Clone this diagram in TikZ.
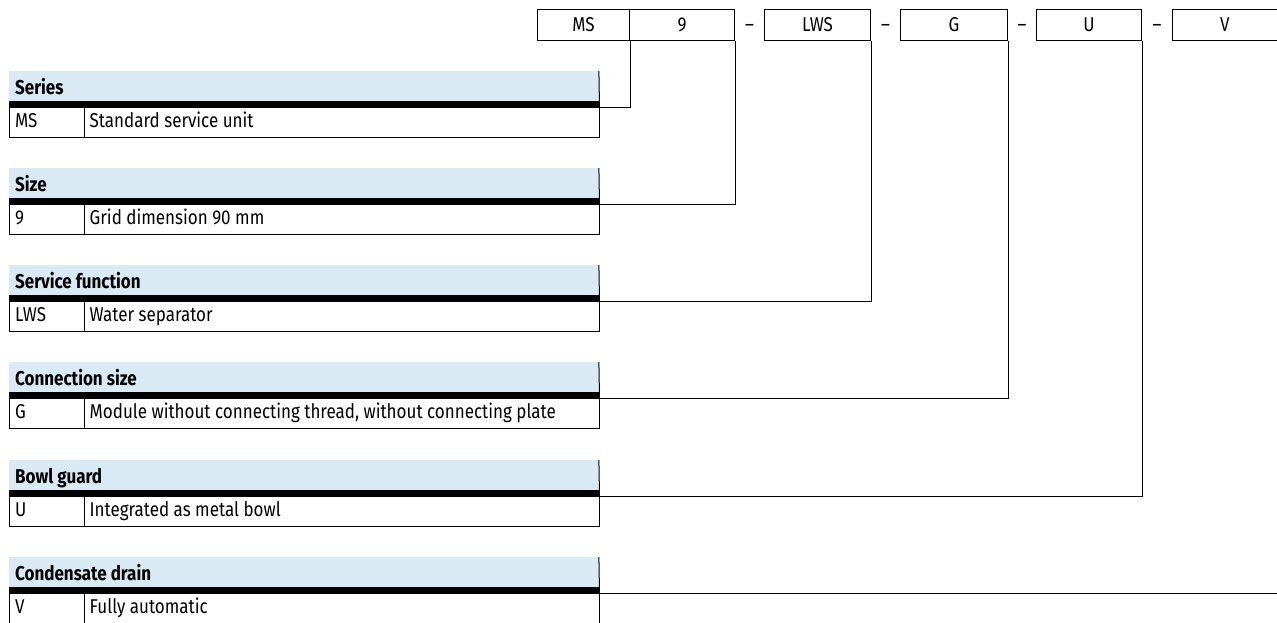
\documentclass[tikz,border=0pt]{standalone}
\usepackage{fontspec}
\setmainfont{Fira Sans}[FakeStretch=0.85]
\definecolor{hdrblue}{RGB}{217,234,244}
\tikzset{
  topbox/.style={draw, line width=1pt, minimum height=31pt, inner sep=0pt},
  hdrband/.style={fill=hdrblue, minimum width=590pt, minimum height=30pt, inner sep=0pt, anchor=north west},
  rowbox/.style={draw, line width=1pt, minimum width=590pt, minimum height=30pt, inner sep=0pt, anchor=north west},
  txt/.style={inner sep=0pt, anchor=base west, font=\fontsize{20}{22}\selectfont},
  btxt/.style={inner sep=0pt, anchor=base west, font=\fontsize{20}{22}\selectfont\bfseries},
  ctxt/.style={inner sep=0pt, anchor=base, font=\fontsize{20}{22}\selectfont},
  conn/.style={line width=1pt}
}
\begin{document}
\begin{tikzpicture}[x=1pt,y=-1pt]
\useasboundingbox (0,0) rectangle (1277,622);
\clip (0,0) rectangle (1277,622);
% top code boxes
\node[topbox, minimum width=92pt] (bMS) at (583.5,25) {};
\node[topbox, minimum width=105pt] (b9) at (682,25) {};
\node[topbox, minimum width=106pt] (bLWS) at (817.5,25) {};
\node[topbox, minimum width=107pt] (bG) at (954,25) {};
\node[topbox, minimum width=105pt] (bU) at (1089,25) {};
\node[topbox, minimum width=107.5pt] (bV) at (1226.25,25) {};
\node[ctxt] (tMS) at (583.5,31) {MS};
\node[ctxt] (t9) at (682,31) {9};
\node[ctxt] (tLWS) at (817.5,31) {LWS};
\node[ctxt] (tG) at (954,31) {G};
\node[ctxt] (tU) at (1089,31) {U};
\node[ctxt] (tV) at (1224.75,31) {V};
\node[ctxt] (d1) at (749.5,31) {–};
\node[ctxt] (d2) at (885.5,31) {–};
\node[ctxt] (d3) at (1022,31) {–};
\node[ctxt] (d4) at (1157,31) {–};
% tables
\foreach \i/\t/\hd/\code/\desc in {
  1/71/Series/MS/Standard service unit,
  2/168/Size/9/Grid dimension 90 mm,
  3/265/Service function/LWS/Water separator,
  4/362/Connection size/G/{Module without connecting thread, without connecting plate},
  5/460/Bowl guard/U/Integrated as metal bowl,
  6/557/Condensate drain/V/Fully automatic}{
  \node[hdrband] (h\i) at (8.5,\t) {};
  \fill (h\i.south west) rectangle ([yshift=-6pt]h\i.south east);
  \node[rowbox] (r\i) at ([yshift=-6pt]h\i.south west) {};
  \draw[line width=1pt] (h\i.north east) -- (r\i.north east);
  \draw[line width=1pt] ([xshift=76pt]r\i.north west) -- ([xshift=76pt]r\i.south west);
  \node[btxt] (ht\i) at ([xshift=6.5pt,yshift=-23pt]h\i.north west) {\hd};
  \node[txt] (rc\i) at ([xshift=6.5pt,yshift=-19.8pt]r\i.north west) {\code};
  \node[txt] (rd\i) at ([xshift=81pt,yshift=-19.8pt]r\i.north west) {\desc};
}
% connectors
\draw[conn] (r1.north east) -| (bMS.south east);
\draw[conn] (r2.north east) -| (b9.south east);
\draw[conn] (r3.north east) -| (bLWS.south east);
\draw[conn] (r4.north east) -| (bG.south east);
\draw[conn] (r5.north east) -| (bU.south east);
\draw[conn] (r6.north east) -| (bV.south east);
\end{tikzpicture}
\end{document}
